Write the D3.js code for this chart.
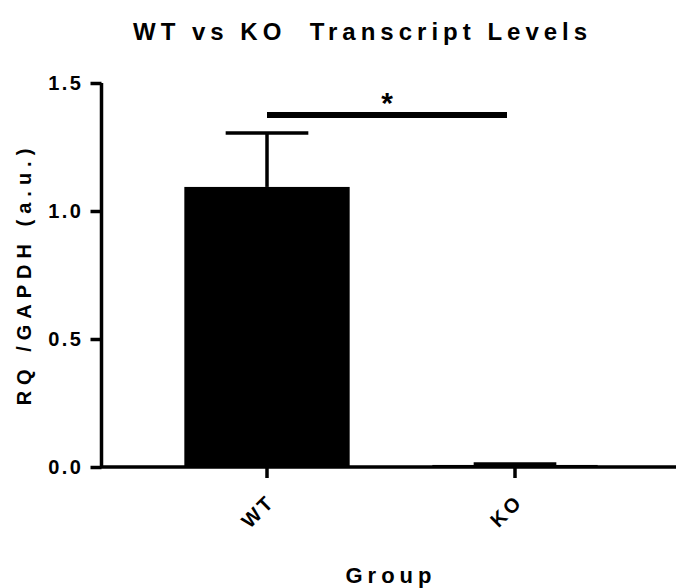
<!DOCTYPE html>
<html>
<head>
<meta charset="utf-8">
<script src="https://cdn.jsdelivr.net/npm/d3@7"></script>
<style>
  html, body { margin: 0; padding: 0; background: #fff; }
  svg { display: block; font-family: "Liberation Sans", Arial, sans-serif; font-weight: bold; }
</style>
</head>
<body>
<div id="chart"></div>
<script>
const groups = ["WT", "KO"];
const means = [1.094, 0.008];
const sems = [0.211, 0.004];
const yTicks = [0, 0.5, 1.0, 1.5];
const sigLabel = "*";

const width = 678, height = 588;

const svg = d3.select("#chart").append("svg")
    .attr("width", width)
    .attr("height", height);

const x = d3.scaleBand()
    .domain(groups)
    .range([143, 639])
    .paddingInner(1 / 3)
    .paddingOuter(1 / 6);

const y = d3.scaleLinear()
    .domain([0, 1.5])
    .range([467, 83]);

const data = groups.map((g, i) => ({ group: g, mean: means[i], sem: sems[i] }));

// bars
svg.append("g").selectAll("rect")
    .data(data)
    .enter()
    .append("rect")
    .attr("x", d => x(d.group))
    .attr("y", d => y(d.mean))
    .attr("width", x.bandwidth())
    .attr("height", d => y(0) - y(d.mean))
    .attr("fill", "#000");

// error bars (upper only)
const err = svg.append("g").attr("stroke", "#000").attr("stroke-width", 3.5);
err.selectAll("line.stem")
    .data(data)
    .enter()
    .append("line")
    .attr("class", "stem")
    .attr("x1", d => x(d.group) + x.bandwidth() / 2)
    .attr("x2", d => x(d.group) + x.bandwidth() / 2)
    .attr("y1", d => y(d.mean))
    .attr("y2", d => y(d.mean + d.sem));
err.selectAll("line.cap")
    .data(data)
    .enter()
    .append("line")
    .attr("class", "cap")
    .attr("x1", d => x(d.group) + x.bandwidth() / 4)
    .attr("x2", d => x(d.group) + x.bandwidth() * 3 / 4)
    .attr("y1", d => y(d.mean + d.sem))
    .attr("y2", d => y(d.mean + d.sem));

// y axis
const yAxis = svg.append("g")
    .attr("transform", "translate(101.5,0)")
    .call(d3.axisLeft(y).tickValues(yTicks).tickFormat(d3.format(".1f")).tickSize(11).tickPadding(7));
yAxis.select(".domain").attr("d", `M0,${y(1.5)}V${y(0)}`).attr("stroke-width", 3.5);
yAxis.selectAll(".tick line").attr("stroke-width", 3.5);
yAxis.selectAll(".tick text")
    .attr("font-size", 20)
    .attr("font-weight", "bold")
    .attr("font-family", "Liberation Sans, Arial, sans-serif")
    .attr("letter-spacing", 2.5)
    .attr("fill", "#000");

// x axis
const xAxis = svg.append("g")
    .attr("transform", `translate(0,${y(0)})`)
    .call(d3.axisBottom(x).tickSize(11));
xAxis.select(".domain").attr("d", "M100,0H676").attr("stroke-width", 3.5);
xAxis.selectAll(".tick line").attr("stroke-width", 3.5);
xAxis.selectAll(".tick text")
    .attr("font-size", 20)
    .attr("font-weight", "bold")
    .attr("font-family", "Liberation Sans, Arial, sans-serif")
    .attr("letter-spacing", 3)
    .attr("fill", "#000")
    .attr("text-anchor", "end")
    .attr("x", 0)
    .attr("y", 0)
    .attr("dy", 0)
    .attr("transform", "translate(9,36) rotate(-45)");

// significance bar
const sig = svg.append("g");
const sigY = y(d3.max(data, d => d.mean + d.sem)) - 18;
sig.append("line")
    .attr("x1", x("WT") + x.bandwidth() / 2)
    .attr("x2", x("KO") + x.bandwidth() / 2 - 8)
    .attr("y1", sigY)
    .attr("y2", sigY)
    .attr("stroke", "#000")
    .attr("stroke-width", 6);
sig.append("text")
    .attr("x", (x("WT") + x("KO") + x.bandwidth() - 8) / 2)
    .attr("y", sigY - 2)
    .attr("text-anchor", "middle")
    .attr("font-size", 30)
    .text(sigLabel);

// title
svg.append("text")
    .attr("x", 133)
    .attr("y", 40)
    .attr("text-anchor", "start")
    .attr("font-size", 24)
    .attr("letter-spacing", 5)
    .attr("xml:space", "preserve")
    .style("white-space", "pre")
    .text("WT vs KO  Transcript Levels");

// axis titles
svg.append("text")
    .attr("transform", "translate(31,274) rotate(-90)")
    .attr("text-anchor", "middle")
    .attr("font-size", 20)
    .attr("letter-spacing", 6)
    .text("RQ /GAPDH (a.u.)");

svg.append("text")
    .attr("x", 391)
    .attr("y", 583)
    .attr("text-anchor", "middle")
    .attr("font-size", 22)
    .attr("letter-spacing", 5)
    .text("Group");
</script>
</body>
</html>
